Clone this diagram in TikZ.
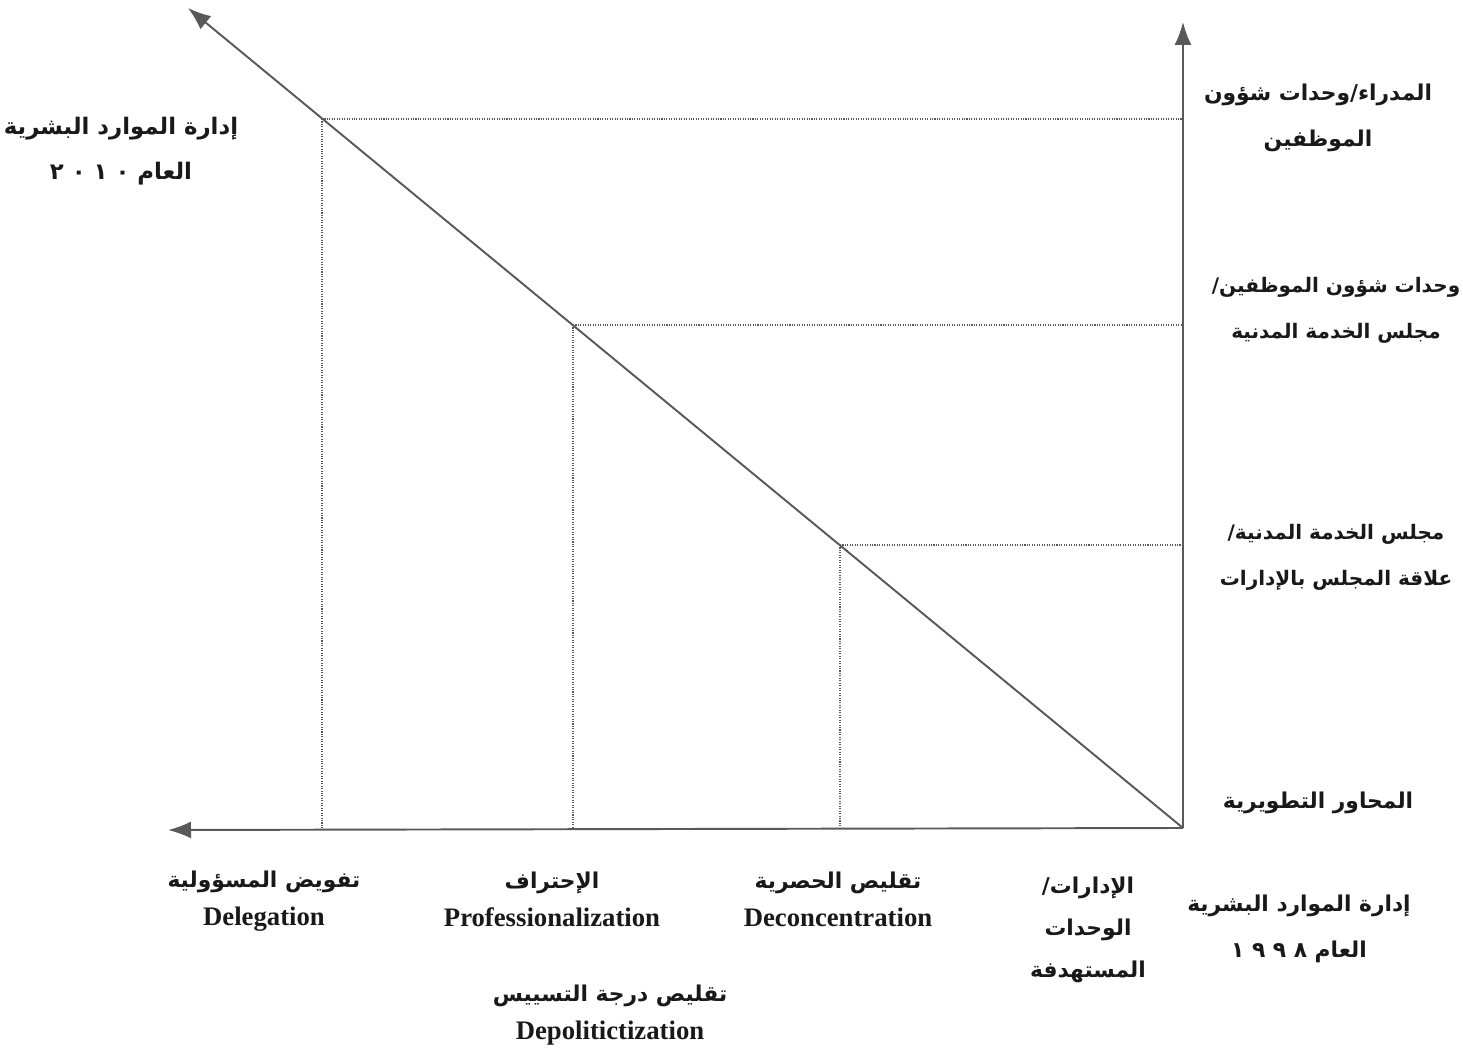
\documentclass[tikz,border=0pt]{standalone}
\usepackage{fontspec}
\setmainfont{Liberation Serif}
\newfontfamily\arabicfont[Script=Arabic]{DejaVu Sans}
\TeXXeTstate=1
\usepackage{tikz}
\usetikzlibrary{arrows.meta,positioning}

\newcommand{\ar}[2][12.4]{{\arabicfont\bfseries\fontsize{#1}{14}\selectfont\beginR #2\endR}}
\newcommand{\num}[1]{\beginL #1\endL{}}

\begin{document}
\begin{tikzpicture}[
  x=0.02cm, y=-0.02cm,
  eje/.style={-{Latex[length=4.6mm, width=3.4mm]}, line width=1.1pt, draw=black!65},
  guia/.style={draw=black!65, line width=0.6pt, dash pattern=on 0.6pt off 0.8pt},
  etiqueta/.style={align=center, inner sep=0pt, text=black!90,
                   font=\fontsize{13.5}{26}\selectfont},
  bilingue/.style={align=center, inner sep=0pt, text=black!90,
                   font=\fontsize{15.2}{21.5}\selectfont\bfseries}
]
\useasboundingbox (0,0) rectangle (1463,1053);

% ejes
\coordinate (O) at (1183,828);
\coordinate (finY) at (1183,22);
\coordinate (finX) at (168,830);
\coordinate (finD) at (188,8);
\draw[eje] (O) -- (finY);
\draw[eje] (O) -- (finX);
\draw[eje] (O) -- (finD);

% puntos sobre la diagonal
\coordinate (p1) at (322,119);
\coordinate (p2) at (573,325);
\coordinate (p3) at (840,545);
\coordinate (h1) at (1183,119);
\coordinate (h2) at (1183,325);
\coordinate (h3) at (1183,545);
\coordinate (b1) at (322,828);
\coordinate (b2) at (573,828);
\coordinate (b3) at (840,828);

\foreach \i in {1,2,3}{
  \draw[guia] (p\i) -- (h\i);
  \draw[guia] (p\i) -- (b\i);
}

% etiquetas del eje vertical
\node[etiqueta] (nivel3) at (1318,118) {\ar{المدراء/وحدات شؤون}\\ \ar{الموظفين}};
\node[etiqueta] (nivel2) at (1336,310) {\ar[11.4]{وحدات شؤون الموظفين/}\\ \ar[11.4]{مجلس الخدمة المدنية}};
\node[etiqueta] (nivel1) at (1336,557) {\ar[11.4]{مجلس الخدمة المدنية/}\\ \ar[11.4]{علاقة المجلس بالإدارات}};
\node[etiqueta] (ejes) at (1318,803) {\ar{المحاور التطويرية}};
\node[etiqueta] (anio2010) at (121,151) {\ar[13]{إدارة الموارد البشرية}\\ \ar[13]{العام \num{٢ ٠ ١ ٠}}};
\node[etiqueta] (anio1998) at (1299,929) {\ar{إدارة الموارد البشرية}\\ \ar{العام \num{١ ٩ ٩ ٨}}};

% etiquetas del eje horizontal
\node[etiqueta, font=\fontsize{13.5}{24}\selectfont] (unidades) at (1088,930)
  {\ar{الإدارات/}\\ \ar{الوحدات}\\ \ar{المستهدفة}};
\node[bilingue] (deconc) at (838,899) {\ar{تقليص الحصرية}\\ Deconcentration};
\node[bilingue] (profes) at (552,899) {\ar{الإحتراف}\\ Professionalization};
\node[bilingue] (deleg) at (264,901) {\ar{تفويض المسؤولية}\\ Delegation};
\node[bilingue] (depol) at (610,1015) {\ar{تقليص درجة التسييس}\\ Depolitictization};
\end{tikzpicture}
\end{document}
